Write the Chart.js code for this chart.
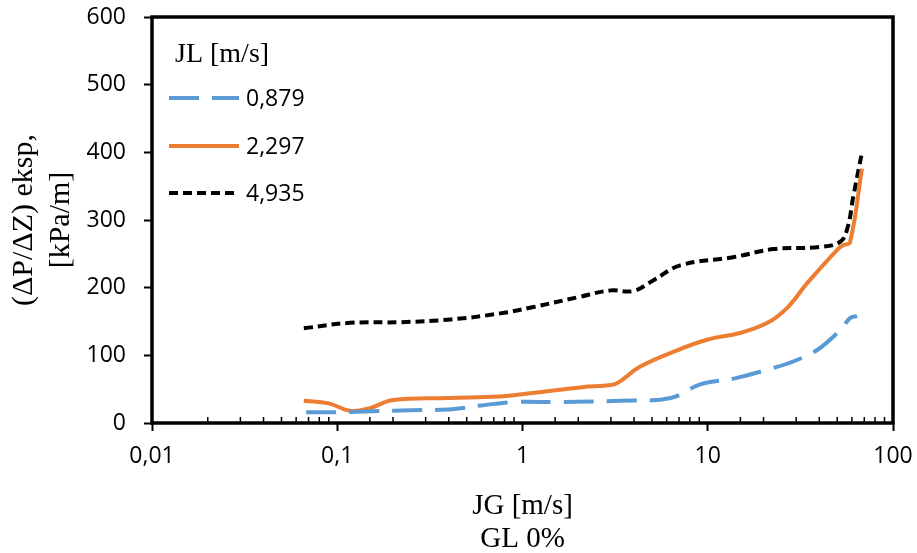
<!DOCTYPE html>
<html>
<head>
<meta charset="utf-8">
<script src="https://cdn.jsdelivr.net/npm/chart.js@4.4.1/dist/chart.umd.min.js"></script>
<style>
  body { margin: 0; background: #fff; }
  #wrap { width: 917px; height: 553px; }
</style>
</head>
<body>
<div id="wrap"><canvas id="chart" width="917" height="553"></canvas></div>
<script>
// Data (JG in m/s, pressure gradient in kPa/m)
const seriesNames = ['0,879', '2,297', '4,935'];

const jgBlue = [0.068, 0.1, 0.14, 0.25, 0.4, 0.6, 0.9, 1.6, 3.4, 6.3, 9.1, 14, 21.7, 29.6, 39.5, 53, 58.6, 64];
const dpBlue = [16, 16, 17, 19, 20, 26, 31, 31, 33, 37, 57, 66, 80, 92, 109, 140, 155, 158];

const jgOrange = [0.066, 0.09, 0.117, 0.15, 0.2, 0.4, 0.75, 1.1, 2.1, 3.0, 3.3, 4.3, 6.5, 9.9, 14.9, 21, 27, 34.5, 50, 54, 58.6, 68];
const dpOrange = [33, 29, 18, 22, 34, 37, 39, 44, 53, 56, 60, 83, 105, 123, 133, 148, 171, 207, 256, 263, 267, 376];

const jgBlack = [0.066, 0.117, 0.22, 0.41, 0.76, 1.13, 2.0, 3.0, 3.95, 5.1, 7.1, 13.7, 22.7, 40, 52, 57, 61, 68];
const dpBlack = [140, 148, 149, 153, 162, 171, 186, 196, 195, 211, 233, 245, 257, 260, 268, 290, 334, 400];

const xMajor = [0.01, 0.1, 1, 10, 100];
const yTicks = [0, 100, 200, 300, 400, 500, 600];

const tickFont = { family: 'Open Sans', size: 23 };
const serif = 'Liberation Serif';

function pairs(xs, ys) {
    return xs.map((x, i) => ({ x: x, y: ys[i] }));
}

function isMajor(v) {
    return xMajor.some(m => Math.abs(v - m) / m < 1e-6);
}

// keep the plot box where the reference has it
function noPad(s) {
    s.paddingTop = 0;
    s.paddingBottom = 0;
    s.paddingLeft = 0;
    s.paddingRight = 0;
}

// Frame around the plot area plus inward minor ticks on the log axis
const framePlugin = {
    id: 'frame',
    afterDraw(chart) {
        const ctx = chart.ctx;
        const a = chart.chartArea;
        const xs = chart.scales.x;
        ctx.save();
        ctx.strokeStyle = '#000';
        ctx.lineWidth = 1.5;
        xs.ticks.forEach(t => {
            if (isMajor(t.value)) return;
            const px = xs.getPixelForValue(t.value);
            ctx.beginPath();
            ctx.moveTo(px, a.bottom);
            ctx.lineTo(px, a.bottom - 6);
            ctx.stroke();
        });
        ctx.lineWidth = 3.5;
        ctx.strokeRect(a.left, a.top, a.right - a.left, a.bottom - a.top);
        ctx.restore();
    }
};

// Legend drawn inside the plot, top left
const legendPlugin = {
    id: 'innerLegend',
    afterDraw(chart) {
        const ctx = chart.ctx;
        ctx.save();
        ctx.fillStyle = '#000';
        ctx.font = '28px "' + serif + '"';
        ctx.textBaseline = 'alphabetic';
        ctx.fillText('JL [m/s]', 175, 62);
        const rows = [98, 146, 193];
        chart.data.datasets.forEach((ds, i) => {
            const y = rows[i];
            ctx.strokeStyle = ds.borderColor;
            ctx.lineWidth = ds.borderWidth;
            ctx.setLineDash(ds.borderDash || []);
            ctx.beginPath();
            ctx.moveTo(169, y);
            ctx.lineTo(239, y);
            ctx.stroke();
            ctx.setLineDash([]);
            ctx.font = '23px "Open Sans"';
            ctx.textBaseline = 'middle';
            ctx.fillText(ds.label, 246, y + 1);
        });
        ctx.restore();
    }
};

new Chart(document.getElementById('chart'), {
    type: 'scatter',
    data: {
        datasets: [
            {
                label: seriesNames[0],
                data: pairs(jgBlue, dpBlue),
                borderColor: '#5b9bd5',
                borderWidth: 4,
                borderDash: [30, 13],
                showLine: true,
                pointRadius: 0,
                tension: 0.4
            },
            {
                label: seriesNames[1],
                data: pairs(jgOrange, dpOrange),
                borderColor: '#ed7d31',
                borderWidth: 4,
                showLine: true,
                pointRadius: 0,
                tension: 0.4
            },
            {
                label: seriesNames[2],
                data: pairs(jgBlack, dpBlack),
                borderColor: '#000000',
                borderWidth: 4,
                borderDash: [9, 5],
                showLine: true,
                pointRadius: 0,
                tension: 0.4
            }
        ]
    },
    options: {
        responsive: false,
        animation: false,
        layout: { padding: { top: 17, right: 24, left: 0, bottom: 0 } },
        plugins: {
            legend: { display: false },
            tooltip: { enabled: false }
        },
        scales: {
            x: {
                type: 'logarithmic',
                min: 0.01,
                max: 100,
                border: { display: false },
                grid: {
                    drawOnChartArea: false,
                    tickLength: 8,
                    tickWidth: 2,
                    tickColor: c => isMajor(c.tick.value) ? '#000' : 'rgba(0,0,0,0)'
                },
                ticks: {
                    autoSkip: false,
                    maxRotation: 0,
                    color: '#000',
                    font: tickFont,
                    padding: 12,
                    callback: v => isMajor(v) ? String(v).replace('.', ',') : ''
                },
                title: {
                    display: true,
                    text: ['JG [m/s]', 'GL 0%'],
                    color: '#000',
                    font: { family: serif, size: 29, lineHeight: 1.15 },
                    padding: { top: 12, bottom: -3 }
                },
                afterFit: s => { s.height = 130; noPad(s); }
            },
            y: {
                min: 0,
                max: 600,
                border: { display: false },
                afterBuildTicks: s => { s.ticks = yTicks.map(v => ({ value: v })); },
                grid: {
                    drawOnChartArea: false,
                    tickLength: 8,
                    tickWidth: 2,
                    tickColor: '#000'
                },
                ticks: {
                    color: '#000',
                    font: tickFont,
                    padding: 18
                },
                title: {
                    display: true,
                    text: ['(\u0394P/\u0394Z) eksp,', '[kPa/m]'],
                    color: '#000',
                    font: { family: serif, size: 30, lineHeight: 1.25 },
                    padding: { top: 5 }
                },
                afterFit: s => { s.width = 152; noPad(s); }
            }
        }
    },
    plugins: [framePlugin, legendPlugin]
});
</script>
</body>
</html>
